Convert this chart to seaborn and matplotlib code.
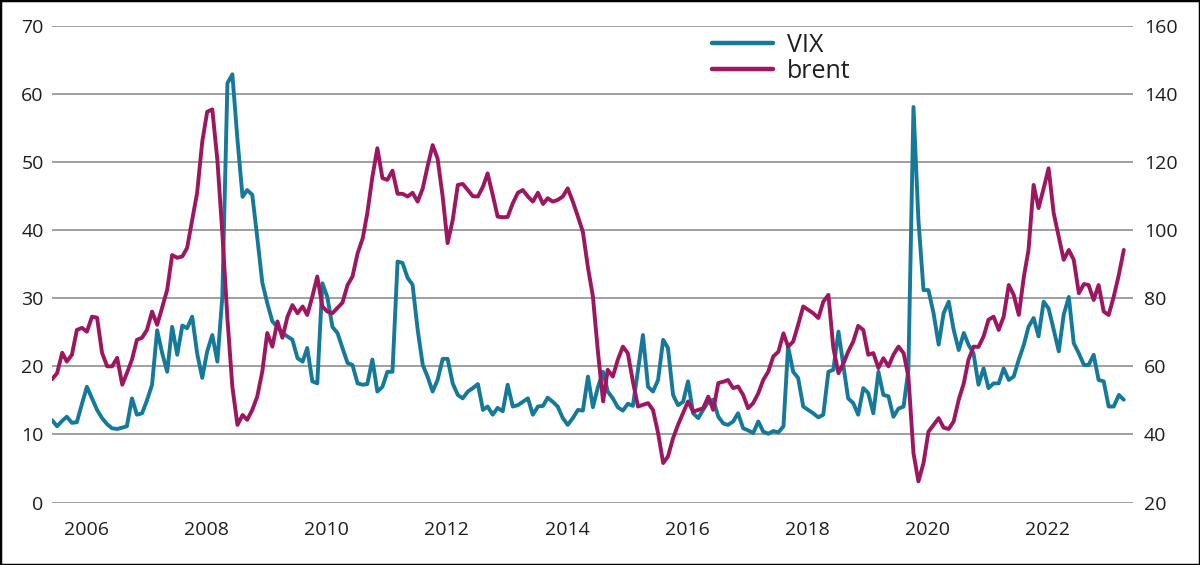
import pandas as pd
import seaborn as sns
import matplotlib.pyplot as plt
from matplotlib.patches import Rectangle

# monthly averages, Nov 2005 - Sep 2023
start_month = '2005-11-30'

vix = [
    12.1, 11.2,
    12.0, 12.6, 11.7, 11.8, 14.5, 17.0, 15.3, 13.6, 12.4, 11.5, 10.9, 10.8,
    11.0, 11.2, 15.3, 12.9, 13.1, 15.0, 17.3, 25.3, 22.0, 19.2, 25.8, 21.7,
    26.0, 25.6, 27.3, 21.9, 18.3, 22.2, 24.6, 20.7, 30.2, 61.6, 62.9, 53.3,
    44.9, 45.9, 45.2, 39.0, 32.3, 29.3, 26.6, 25.8, 24.9, 24.4, 23.9, 21.2,
    20.7, 22.7, 17.8, 17.5, 32.2, 30.2, 25.8, 24.9, 22.7, 20.5, 20.2, 17.5,
    17.3, 17.4, 21.0, 16.3, 17.0, 19.2, 19.2, 35.4, 35.2, 33.0, 32.0, 25.4,
    20.2, 18.5, 16.3, 18.0, 21.1, 21.1, 17.5, 15.8, 15.3, 16.3, 16.8, 17.4,
    13.6, 14.1, 12.9, 13.9, 13.4, 17.3, 14.1, 14.3, 14.8, 15.3, 12.9, 14.1,
    14.2, 15.4, 14.8, 14.1, 12.4, 11.4, 12.4, 13.6, 13.5, 18.5, 14.0, 17.0,
    19.2, 16.3, 15.3, 14.0, 13.5, 14.5, 14.2, 19.5, 24.6, 17.0, 16.3, 18.0,
    23.9, 22.7, 15.8, 14.3, 14.8, 17.8, 13.1, 12.4, 13.6, 14.8, 15.1, 12.6,
    11.6, 11.4, 11.9, 13.1, 10.9, 10.6, 10.2, 11.9, 10.4, 10.1, 10.5, 10.3,
    11.2, 22.9, 19.2, 18.3, 14.1, 13.6, 13.1, 12.5, 12.9, 19.2, 19.5, 25.1,
    20.0, 15.3, 14.6, 12.9, 16.8, 16.1, 13.1, 19.2, 15.8, 15.6, 12.6, 13.8,
    14.1, 19.5, 58.1, 41.5, 31.2, 31.2, 27.8, 23.2, 27.8, 29.5, 25.4, 22.4,
    24.9, 23.2, 21.9, 17.3, 19.7, 16.8, 17.5, 17.5, 19.7, 18.0, 18.5, 21.0,
    23.2, 25.8, 27.1, 24.4, 29.5, 28.5, 25.4, 22.2, 27.6, 30.2, 23.4, 21.9,
    20.2, 20.2, 21.7, 18.0, 17.8, 14.1, 14.1, 15.8, 15.1,
]

brent = [
    56.2, 58.0,
    64.0, 61.4, 63.4, 70.7, 71.3, 70.2, 74.6, 74.3, 64.0, 60.0, 60.0, 62.5,
    54.6, 58.0, 62.0, 67.8, 68.4, 70.7, 76.1, 72.2, 77.2, 82.5, 92.7, 91.9,
    92.3, 94.8, 103.0, 111.0, 126.0, 134.8, 135.5, 120.6, 99.2, 74.0, 54.0, 42.8,
    45.7, 44.3, 47.2, 51.1, 58.5, 69.8, 65.8, 73.2, 68.4, 74.6, 78.0, 75.6,
    77.6, 75.1, 80.5, 86.4, 77.6, 76.1, 75.6, 77.2, 78.7, 83.9, 86.4, 93.2,
    97.6, 105.0, 115.7, 124.1, 115.3, 114.8, 117.5, 110.7, 110.7, 109.9, 111.0, 108.4,
    112.3, 118.7, 125.0, 121.1, 109.9, 96.2, 103.0, 113.3, 113.6, 111.8, 110.0, 109.9,
    112.8, 116.7, 110.4, 104.0, 103.8, 103.9, 107.9, 111.0, 111.8, 109.9, 108.4, 111.0,
    107.7, 109.4, 108.4, 108.9, 109.9, 112.3, 108.4, 104.0, 99.5, 89.0, 80.5, 64.0,
    49.7, 59.0, 57.0, 61.9, 65.8, 63.9, 55.5, 48.2, 48.7, 49.2, 47.2, 40.4,
    31.6, 33.5, 38.9, 42.8, 46.3, 49.7, 46.7, 47.2, 47.7, 51.1, 47.2, 55.1,
    55.5, 56.0, 53.6, 54.1, 51.6, 47.7, 49.2, 52.1, 56.0, 58.5, 62.9, 64.3,
    69.7, 65.8, 67.3, 72.2, 77.6, 76.6, 75.6, 74.2, 79.0, 81.0, 65.4, 58.0,
    60.9, 64.3, 67.3, 71.9, 70.7, 63.4, 63.9, 59.5, 62.4, 60.0, 63.4, 65.8,
    63.9, 57.0, 34.5, 26.2, 31.6, 40.8, 42.8, 44.8, 42.0, 41.6, 43.8, 50.2,
    55.1, 61.9, 65.8, 65.7, 68.8, 73.7, 74.6, 70.7, 74.6, 83.9, 81.0, 75.1,
    86.4, 94.2, 113.3, 106.5, 112.3, 118.2, 105.0, 98.1, 91.3, 94.2, 91.3, 81.5,
    84.2, 83.9, 79.5, 83.9, 76.1, 75.1, 80.5, 86.9, 94.2,
]

year_labels = ['2006', '2008', '2010', '2012', '2014', '2016', '2018', '2020', '2022']
left_ticks = [0, 10, 20, 30, 40, 50, 60, 70]
right_ticks = [20, 40, 60, 80, 100, 120, 140, 160]

teal = '#14799a'
plum = '#9e1560'
grid_grey = '#858585'
text_col = '#1e1e1e'

df = pd.DataFrame({
    'date': pd.date_range(start_month, periods=len(vix), freq='ME'),
    'VIX': vix,
    'brent': brent,
})

sns.set_theme(style='white')
plt.rcParams['font.family'] = ['Open Sans', 'DejaVu Sans']

fig = plt.figure(figsize=(12, 5.65), dpi=100)
ax = fig.add_axes([52 / 1200, 1 - 502.5 / 565, 1081 / 1200, 476.5 / 565])
ax2 = ax.twinx()

sns.lineplot(data=df, x='date', y='VIX', ax=ax, color=teal, lw=2.8, label='VIX', legend=False)
sns.lineplot(data=df, x='date', y='brent', ax=ax2, color=plum, lw=2.8, label='brent', legend=False)

ax.set_xlim(pd.Timestamp(start_month), pd.Timestamp('2023-11-25'))
ax.set_ylim(0, 70)
ax2.set_ylim(20, 160)
ax.set_yticks(left_ticks)
ax2.set_yticks(right_ticks)
ax.set_xticks([pd.Timestamp(f'{y}-06-25') for y in year_labels])
ax.set_xticklabels(year_labels)

ax.yaxis.grid(True, color=grid_grey, lw=1.1)
ax.set_axisbelow(True)
for a in (ax, ax2):
    for s in a.spines.values():
        s.set_visible(False)
    a.set_xlabel('')
    a.set_ylabel('')
ax.tick_params(axis='both', length=0, labelsize=14, colors=text_col)
ax.tick_params(axis='y', pad=6)
ax.tick_params(axis='x', pad=13)
ax2.tick_params(axis='y', length=0, labelsize=14, colors=text_col, pad=8)

handles = [ax.get_lines()[0], ax2.get_lines()[0]]
leg = fig.legend(handles, ['VIX', 'brent'], loc='upper left',
                 bbox_to_anchor=(712 / 1200, 1 - 33 / 565), frameon=False,
                 fontsize=18, handlelength=2.45, handletextpad=0.55,
                 labelspacing=0.02, borderpad=0, borderaxespad=0)
for line in leg.get_lines():
    line.set_linewidth(3.2)
for t in leg.get_texts():
    t.set_color(text_col)

fig.patches.append(Rectangle((0, 0), 1, 1, transform=fig.transFigure,
                             fill=False, edgecolor='black', lw=2.5))

fig.savefig('out.png', dpi=100)
